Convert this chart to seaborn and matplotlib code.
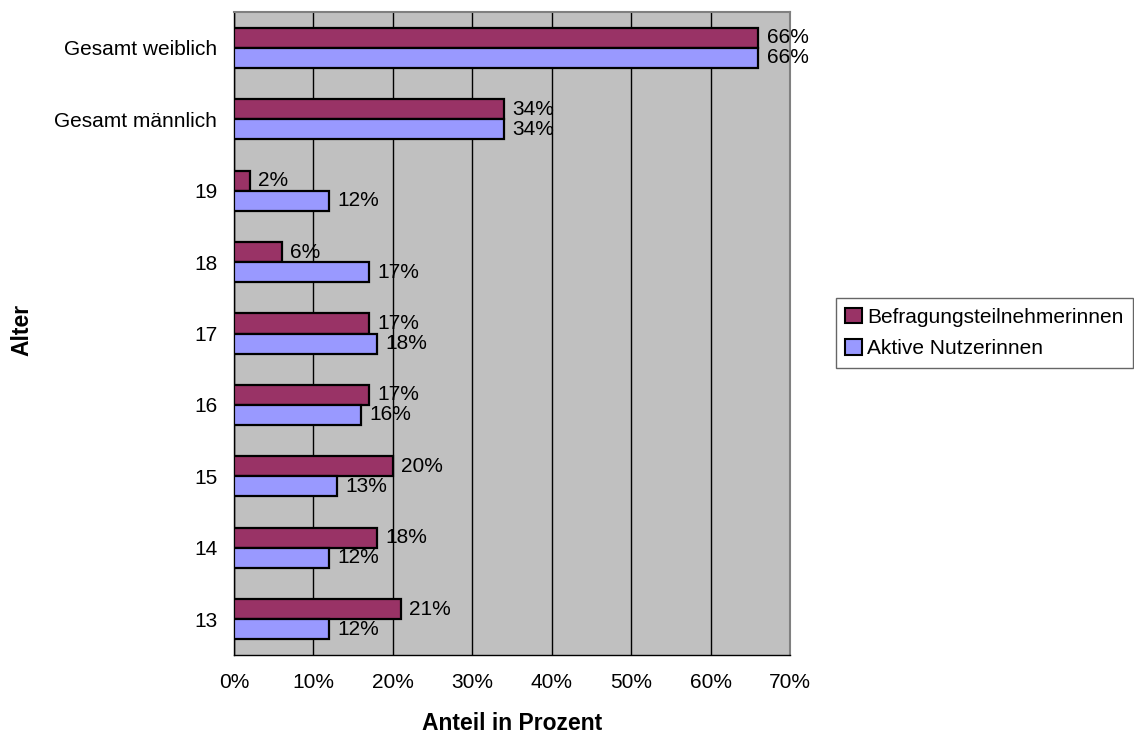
import numpy as np
import pandas as pd
import matplotlib
matplotlib.use("Agg")
import matplotlib.pyplot as plt
from matplotlib import font_manager
from matplotlib.ticker import FixedLocator, NullFormatter
import seaborn as sns

# --- data ---
kategorien = ["Gesamt weiblich", "Gesamt männlich", "19", "18", "17", "16", "15", "14", "13"]
befragung = [66, 34, 2, 6, 17, 17, 20, 18, 21]
aktiv = [66, 34, 12, 17, 18, 16, 13, 12, 12]
reihen = ["Befragungsteilnehmerinnen", "Aktive Nutzerinnen"]
x_ticks = [0, 10, 20, 30, 40, 50, 60, 70]

FARBEN = {"Befragungsteilnehmerinnen": "#993366", "Aktive Nutzerinnen": "#9999FF"}

df = pd.DataFrame({
    "Alter": kategorien * 2,
    "Anteil": befragung + aktiv,
    "Reihe": [reihen[0]] * len(kategorien) + [reihen[1]] * len(kategorien),
})

sns.set_style("white")
plt.rcParams["font.family"] = ["Liberation Sans", "DejaVu Sans"]
plt.rcParams["text.color"] = "black"
plt.rcParams["xtick.color"] = "black"
plt.rcParams["ytick.color"] = "black"
plt.rcParams["axes.labelcolor"] = "black"

FS = 15

# bold font: avoid picking the "Narrow" variant of Liberation Sans
bold_font = None
for f in font_manager.fontManager.ttflist:
    if f.name == "Liberation Sans" and f.weight in (700, "bold") and f.style == "normal" \
            and "Narrow" not in f.fname:
        bold_font = f.fname
        break
if bold_font:
    bold_prop = font_manager.FontProperties(fname=bold_font, size=16.5)
else:
    bold_prop = font_manager.FontProperties(family="DejaVu Sans", weight="bold", size=15.5)

fig = plt.figure(figsize=(11.34, 7.33), dpi=100)
ax = fig.add_axes([234 / 1134, 1 - 655 / 733, (790 - 234) / 1134, (655 - 12) / 733])
ax.set_facecolor("#C0C0C0")

sns.barplot(data=df, x="Anteil", y="Alter", hue="Reihe", order=kategorien,
            hue_order=reihen, palette=FARBEN, orient="h", width=0.56,
            edgecolor="black", linewidth=1.6, saturation=1, gap=0, ax=ax, zorder=3)

# value labels
for cont in ax.containers:
    ax.bar_label(cont, fmt="%g%%", padding=6, fontsize=FS, color="black", zorder=4)

ax.set_xlim(0, 70)
ax.set_ylim(len(kategorien) - 0.5, -0.5)
ax.xaxis.set_major_locator(FixedLocator(x_ticks))
ax.set_xticklabels([f"{t}%" for t in x_ticks])
ax.grid(axis="x", color="black", linewidth=1, zorder=0)
ax.set_axisbelow(True)

# category ticks between groups (Excel style)
ax.yaxis.set_minor_locator(FixedLocator(np.arange(-0.5, len(kategorien), 1)))
ax.yaxis.set_minor_formatter(NullFormatter())
ax.tick_params(axis="y", which="major", length=0, pad=12, labelsize=FS)
ax.tick_params(axis="y", which="minor", length=6, width=1, color="black", direction="out")
ax.tick_params(axis="x", which="major", length=6, width=1, color="black", direction="out",
               pad=7, labelsize=FS)

for side in ["left", "bottom"]:
    ax.spines[side].set_color("black")
    ax.spines[side].set_linewidth(1)
for side in ["top", "right"]:
    ax.spines[side].set_color("#808080")
    ax.spines[side].set_linewidth(1.5)

ax.set_xlabel("Anteil in Prozent", fontproperties=bold_prop, labelpad=14)
ax.set_ylabel("")
fig.text(22 / 1134, 1 - 330 / 733, "Alter", rotation=90, fontproperties=bold_prop,
         ha="center", va="center")

handles, labels = ax.get_legend_handles_labels()
ax.get_legend().remove()
for h in handles:
    h.set_edgecolor("black")
    h.set_linewidth(1.5)
leg = fig.legend(handles, labels, loc="center left", bbox_to_anchor=(836 / 1134, 1 - 333 / 733),
                 frameon=True, fancybox=False, edgecolor="#404040", fontsize=FS,
                 handlelength=0.8, handleheight=0.8, handletextpad=0.25,
                 borderpad=0.45, labelspacing=0.6, borderaxespad=0)
leg.get_frame().set_linewidth(1)

fig.savefig("out.png", dpi=100, facecolor="white")
